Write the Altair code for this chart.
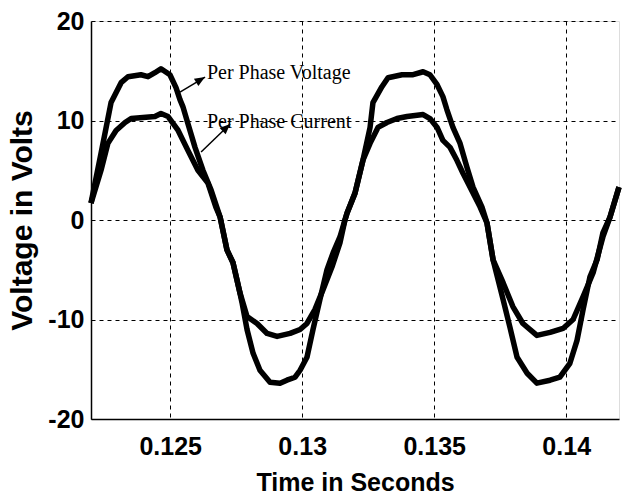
import altair as alt
import pandas as pd

# ---- data ----
t_voltage = [0.12200, 0.12238, 0.12276, 0.12314, 0.12340, 0.12389, 0.12416, 0.12442, 0.12465,
             0.12499, 0.12522, 0.12537, 0.12548, 0.12567, 0.12594, 0.12624, 0.12655, 0.12689,
             0.12715, 0.12738, 0.12764, 0.12772, 0.12791, 0.12814, 0.12840, 0.12878, 0.12916,
             0.12942, 0.12973, 0.12992, 0.13018, 0.13041, 0.13067, 0.13094, 0.13117, 0.13143,
             0.13162, 0.13170, 0.13200, 0.13230, 0.13257, 0.13268, 0.13302, 0.13325, 0.13378,
             0.13420, 0.13458, 0.13484, 0.13511, 0.13533, 0.13548, 0.13571, 0.13598, 0.13624,
             0.13647, 0.13681, 0.13700, 0.13723, 0.13761, 0.13787, 0.13814, 0.13852, 0.13889,
             0.13939, 0.13976, 0.14014, 0.14041, 0.14064, 0.14090, 0.14117, 0.14139, 0.14166,
             0.14200]
voltage = [1.7, 6.7, 11.8, 13.8, 14.4, 14.6, 14.4, 14.8, 15.2,
           14.6, 13.3, 12.1, 11.4, 9.7, 7.3, 5.0, 3.0, 0.3,
           -3.0, -4.3, -7.3, -8.3, -11.0, -13.4, -15.1, -16.3, -16.4,
           -16.1, -15.8, -15.1, -13.8, -11.0, -8.0, -5.0, -3.3, -1.7,
           0.0, 0.7, 2.7, 6.0, 9.3, 11.8, 13.4, 14.3, 14.6,
           14.6, 14.9, 14.6, 13.6, 12.4, 11.1, 9.3, 7.7, 5.3,
           3.3, 1.3, -0.3, -4.0, -8.0, -10.8, -13.8, -15.4, -16.4,
           -16.1, -15.8, -14.4, -12.1, -9.0, -5.7, -4.0, -1.3, 0.3,
           3.3]

t_current = [0.12200, 0.12238, 0.12264, 0.12295, 0.12329, 0.12352, 0.12442, 0.12465, 0.12492,
             0.12530, 0.12567, 0.12605, 0.12643, 0.12673, 0.12689, 0.12715, 0.12738, 0.12764,
             0.12791, 0.12829, 0.12867, 0.12905, 0.12954, 0.12992, 0.13018, 0.13048, 0.13079,
             0.13113, 0.13143, 0.13162, 0.13170, 0.13200, 0.13230, 0.13257, 0.13287, 0.13321,
             0.13359, 0.13397, 0.13458, 0.13484, 0.13511, 0.13533, 0.13560, 0.13586, 0.13609,
             0.13636, 0.13674, 0.13700, 0.13723, 0.13761, 0.13798, 0.13836, 0.13889, 0.13939,
             0.13988, 0.14026, 0.14064, 0.14102, 0.14139, 0.14166, 0.14200]
current = [1.7, 5.0, 7.7, 9.0, 9.8, 10.2, 10.4, 10.7, 10.4,
           9.0, 7.0, 5.0, 3.7, 1.3, 0.3, -3.0, -4.3, -7.3,
           -9.7, -10.4, -11.4, -11.7, -11.4, -11.0, -10.4, -9.0, -7.0,
           -4.7, -2.3, 0.0, 0.7, 2.7, 6.0, 7.7, 9.3, 9.8,
           10.2, 10.4, 10.6, 10.2, 9.3, 8.0, 7.3, 6.0, 4.7,
           3.3, 1.3, -0.3, -4.0, -6.3, -8.7, -10.4, -11.6, -11.3,
           -10.9, -10.0, -7.7, -5.3, -1.7, 0.3, 3.3]

x_ticks = [0.125, 0.13, 0.135, 0.14]
y_ticks = [-20, -10, 0, 10, 20]

labels = ["Per Phase Voltage", "Per Phase Current"]
label_t = [0.12639, 0.12639]
label_v = [14.77, 9.85]
arrow_t0 = [0.12537, 0.12617]
arrow_v0 = [12.86, 6.83]
arrow_t1 = [0.12632, 0.12727]
arrow_v1 = [14.37, 9.65]
arrow_angle = [59, 46]

# ---- tables ----
curves = pd.concat([
    pd.DataFrame({"t": t_voltage, "v": voltage, "series": "Voltage"}),
    pd.DataFrame({"t": t_current, "v": current, "series": "Current"}),
], ignore_index=True)
curves["order"] = range(len(curves))

ann = pd.DataFrame({"label": labels, "t": label_t, "v": label_v,
                    "t0": arrow_t0, "v0": arrow_v0, "t1": arrow_t1, "v1": arrow_v1,
                    "angle": arrow_angle})

xscale = alt.Scale(domain=[0.122, 0.142], nice=False, zero=False)
yscale = alt.Scale(domain=[-20, 20], nice=False)

sans = "Liberation Sans"

xaxis = alt.Axis(values=x_ticks, format="~g", title="Time in Seconds",
                 titleFont=sans, titleFontSize=25, titleFontWeight="bold",
                 titleColor="black", titlePadding=11,
                 labelFont=sans, labelFontSize=25, labelFontWeight="bold", labelColor="black",
                 labelPadding=15, ticks=False, domainColor="black", domainWidth=1.5,
                 grid=True, gridColor="black", gridDash=[4, 4], gridWidth=1, gridOpacity=1)
yaxis = alt.Axis(values=y_ticks, labelExpr="'' + datum.value", title="Voltage in Volts",
                 titleFont=sans, titleFontSize=30, titleFontWeight="bold",
                 titleColor="black", titlePadding=10,
                 labelFont=sans, labelFontSize=25, labelFontWeight="bold", labelColor="black",
                 labelPadding=7, ticks=False, domainColor="black", domainWidth=1.5,
                 grid=True, gridColor="black", gridDash=[4, 4], gridWidth=1, gridOpacity=1)

lines = alt.Chart(curves).mark_line(color="black", strokeWidth=5.5, strokeJoin="round").encode(
    x=alt.X("t:Q", scale=xscale, axis=xaxis),
    y=alt.Y("v:Q", scale=yscale, axis=yaxis),
    detail="series:N",
    order="order:Q",
)

arrows = alt.Chart(ann).mark_rule(color="black", strokeWidth=1.5).encode(
    x="t0:Q", y="v0:Q", x2="t1:Q", y2="v1:Q")

heads = alt.Chart(ann).mark_point(shape="M0,0L-0.5,1.2L0.5,1.2Z", filled=True, color="black",
                                  opacity=1, size=300).encode(
    x="t1:Q", y="v1:Q", angle=alt.Angle("angle:Q", scale=None))

texts = alt.Chart(ann).mark_text(align="left", baseline="middle", font="Liberation Serif",
                                 fontSize=20, color="black").encode(
    x="t:Q", y="v:Q", text="label:N")

chart = alt.layer(lines, arrows, heads, texts).properties(
    width=528, height=398,
    autosize=alt.AutoSizeParams(type="none"),
    padding={"left": 91, "top": 21, "right": 5, "bottom": 82},
).configure_view(stroke="black", strokeWidth=1.5).configure(background="white")

chart.save("out.html", embed_options={"renderer": "svg", "actions": False})
